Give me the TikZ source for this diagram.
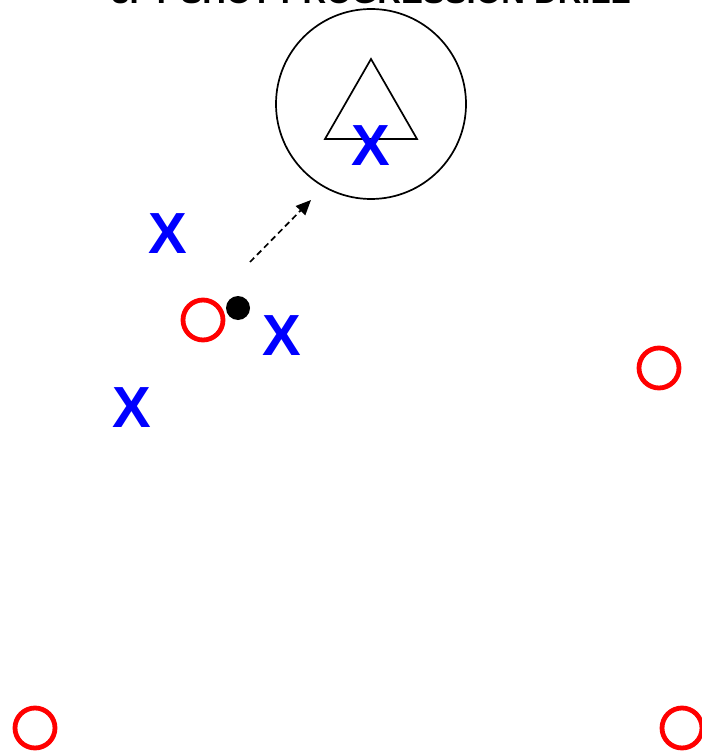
\documentclass[tikz,border=0pt]{standalone}
\usepackage{fontspec}
\setmainfont{Liberation Sans}
\usetikzlibrary{arrows.meta}
\definecolor{pblue}{RGB}{0,0,255}
\definecolor{pred}{RGB}{255,0,0}
\begin{document}
\begin{tikzpicture}[x=1pt,y=-1pt,
  player/.style={text=pblue,font=\fontsize{58}{58}\selectfont\bfseries,inner sep=0pt},
  cone/.style={circle,draw=pred,line width=4.8pt,minimum size=40pt,inner sep=0pt},
  ball/.style={circle,fill=black,minimum size=24pt,inner sep=0pt},
  pass/.style={dash pattern=on 6pt off 4pt,line width=1.7pt,-{Triangle[length=15pt,width=13pt]}}]
\useasboundingbox (0,0) rectangle (701,751);
\node[font=\fontsize{32.8}{33}\selectfont\bfseries,anchor=base] (title) at (371,4) {3PT SHOT PROGRESSION DRILL};
\node[circle,draw,line width=1.7pt,minimum size=190pt,inner sep=0pt] (zone) at (371,104) {};
\draw[line width=1.7pt] (371,59) coordinate (tA) -- (417,139) coordinate (tB) -- (325,139) coordinate (tC) -- cycle;
\node[player] (x0) at (371,146) {X};
\node[player] (x1) at (168,234) {X};
\node[player] (x2) at (282,336) {X};
\node[player] (x3) at (132,408) {X};
\node[cone] (c1) at (203,320) {};
\node[cone] (c2) at (659,368) {};
\node[cone] (c3) at (35,728) {};
\node[cone] (c4) at (682,728) {};
\node[ball] (b) at (238,308) {};
\coordinate (ps) at (250,262);
\coordinate (pe) at (311,200);
\draw[pass] (ps) -- (pe);
\end{tikzpicture}
\end{document}
